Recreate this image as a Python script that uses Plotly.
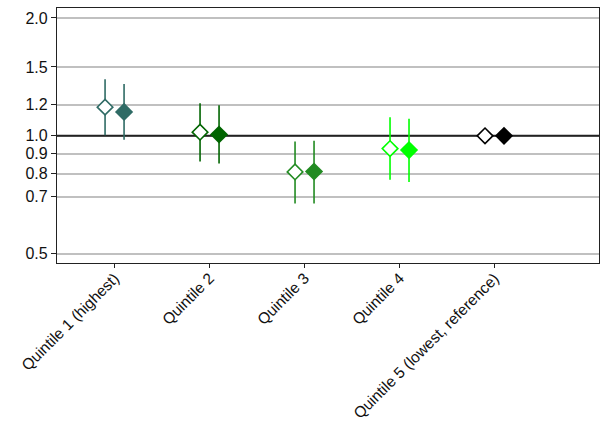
import plotly.graph_objects as go

categories = ["Quintile 1 (highest)", "Quintile 2", "Quintile 3", "Quintile 4",
              "Quintile 5 (lowest, reference)"]
# Model A (hollow diamonds)
est_a = [1.184, 1.022, 0.809, 0.928, 1.0]
lo_a = [1.004, 0.860, 0.672, 0.772, 1.0]
hi_a = [1.395, 1.212, 0.967, 1.116, 1.0]
# Model B (filled diamonds)
est_b = [1.151, 1.008, 0.811, 0.920, 1.0]
lo_b = [0.977, 0.850, 0.672, 0.762, 1.0]
hi_b = [1.357, 1.198, 0.971, 1.105, 1.0]
colors = ["#2F6B65", "#006400", "#228B22", "#00FF00", "#000000"]
ytick_vals = [0.5, 0.7, 0.8, 0.9, 1.0, 1.2, 1.5, 2.0]
ytick_text = ["0.5", "0.7", "0.8", "0.9", "1.0", "1.2", "1.5", "2.0"]
reference_value = 1.0

pos = [i + 1 for i in range(len(categories))]
offset = 0.1
x_range = [0.394, 6.10]

fig = go.Figure()
# reference line at null value (drawn first, so markers sit on top)
fig.add_trace(go.Scatter(x=x_range, y=[reference_value, reference_value],
                         mode="lines", line=dict(color="#222222", width=2),
                         showlegend=False, hoverinfo="skip"))
for i, cat in enumerate(categories):
    c = colors[i]
    fig.add_trace(go.Scatter(
        x=[pos[i] - offset], y=[est_a[i]], mode="markers",
        marker=dict(symbol="diamond", size=12, color="white",
                    line=dict(color=c, width=1.6)),
        error_y=dict(type="data", symmetric=False,
                     array=[hi_a[i] - est_a[i]], arrayminus=[est_a[i] - lo_a[i]],
                     color=c, thickness=1.6, width=0,
                     visible=hi_a[i] != lo_a[i]),
        showlegend=False, name=cat))
    fig.add_trace(go.Scatter(
        x=[pos[i] + offset], y=[est_b[i]], mode="markers",
        marker=dict(symbol="diamond", size=14, color=c,
                    line=dict(color=c, width=0)),
        error_y=dict(type="data", symmetric=False,
                     array=[hi_b[i] - est_b[i]], arrayminus=[est_b[i] - lo_b[i]],
                     color=c, thickness=1.6, width=0,
                     visible=hi_b[i] != lo_b[i]),
        showlegend=False, name=cat))

fig.update_layout(
    width=600, height=422,
    margin=dict(l=57, r=1, t=8, b=159, autoexpand=False),
    paper_bgcolor="white", plot_bgcolor="white",
    font=dict(family="Liberation Sans, Arial, sans-serif", color="#111111"),
    xaxis=dict(range=x_range, tickvals=pos, ticktext=categories,
               tickangle=-45, ticks="outside", ticklen=4, tickcolor="#222222",
               tickfont=dict(size=15.5), ticklabelstandoff=-5,
               showgrid=False, zeroline=False,
               automargin=False,
               showline=True, linecolor="#222222", linewidth=1.3, mirror=True),
    yaxis=dict(type="log", range=[-0.3247, 0.3265], tickvals=ytick_vals,
               ticktext=ytick_text, ticks="outside", ticklen=5,
               tickcolor="#222222", tickfont=dict(size=16), automargin=False,
               showgrid=True, gridcolor="#C0C0C0", gridwidth=1.6, zeroline=False,
               showline=True, linecolor="#222222", linewidth=1.3, mirror=True),
)

fig.write_html("out.html", config={"displayModeBar": False},
               post_script="document.body.style.margin='0';document.body.style.overflow='hidden';")
